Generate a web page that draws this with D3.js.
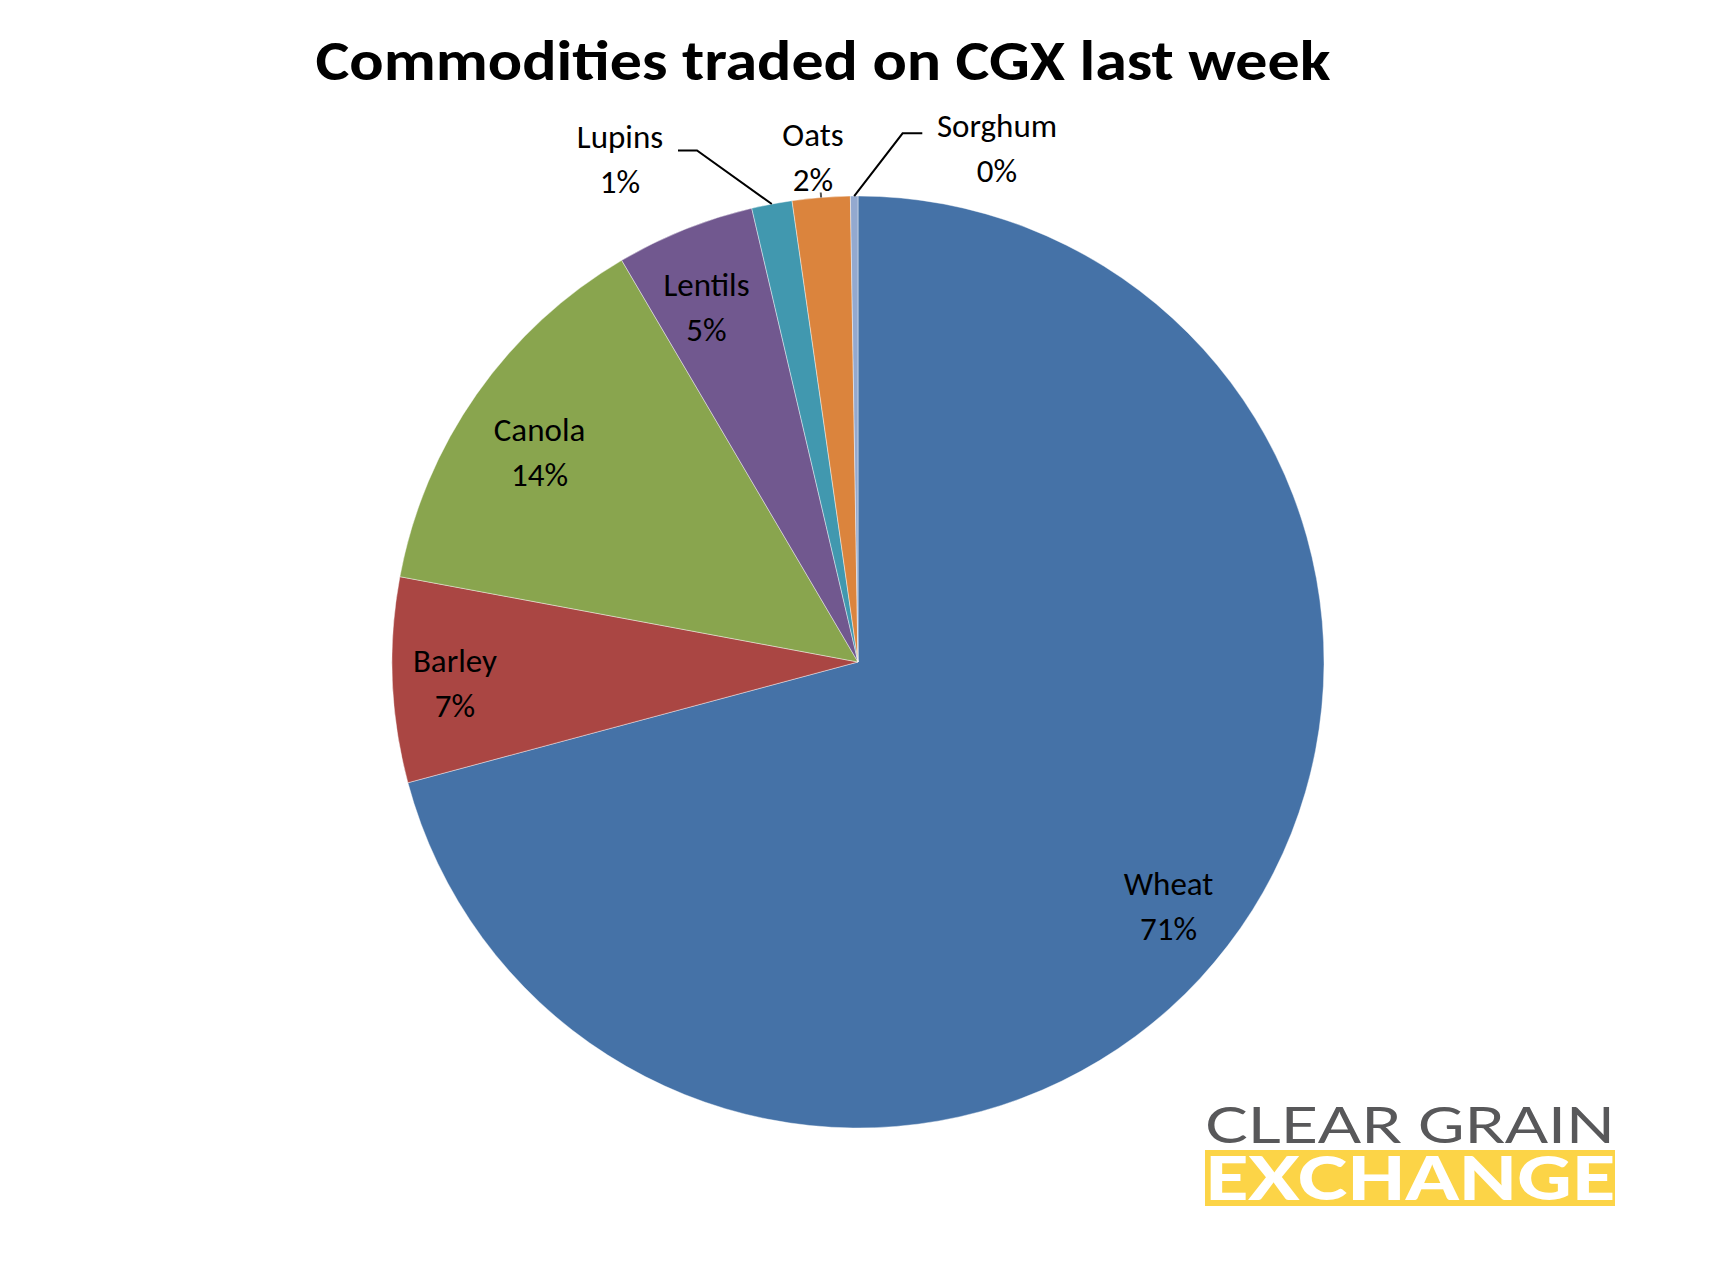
<!DOCTYPE html>
<html>
<head>
<meta charset="utf-8">
<script src="https://cdn.jsdelivr.net/npm/d3@7"></script>
<style>
  html, body { margin: 0; padding: 0; background: #ffffff; }
  svg { display: block; }
</style>
</head>
<body>
<svg id="chart" width="1716" height="1288"></svg>
<script>
// ---- data ----
const categories = ["Wheat", "Barley", "Canola", "Lentils", "Lupins", "Oats", "Sorghum"];
const values = [70.8, 7.1, 13.6, 4.8, 1.4, 2.0, 0.26];
const colors = ["#4572A7", "#AA4643", "#89A54E", "#71588F", "#4198AF", "#DB843D", "#93A9CF"];
const titleText = "Commodities traded on CGX last week";
const logoTop = "CLEAR GRAIN";
const logoBottom = "EXCHANGE";

// ---- layout ----
const W = 1716, H = 1288;
const cx = 858, cy = 662, R = 466;
const labelFont = "Carlito, Calibri, Lato, 'Open Sans', sans-serif";
const labelSize = 33, capRatio = 0.72, baselineGap = 45;
// inside labels: nudge from the slice centroid (at 0.84 R)
const insideNudge = {
  "Wheat":   [0, 5],
  "Barley":  [-12, 5],
  "Canola":  [2, 14],
  "Lentils": [-6, 8]
};
// outside labels: label block center relative to pie center, leader elbow/end
const outside = {
  "Lupins":  { lx: -238, ly: -503, elbow: [-161, -511.5], end: [-180, -511.5] },
  "Oats":    { lx: -45,  ly: -505, stub: 5 },
  "Sorghum": { lx: 139,  ly: -514, elbow: [44.6, -528.7], end: [64.3, -528.7] }
};

const svg = d3.select("#chart");
svg.append("rect").attr("width", W).attr("height", H).attr("fill", "#ffffff");

// title
svg.append("text")
  .attr("x", 823).attr("y", 80)
  .attr("text-anchor", "middle")
  .attr("font-family", labelFont)
  .attr("font-weight", 700)
  .attr("font-size", 56)
  .attr("fill", "#000")
  .attr("textLength", 1015).attr("lengthAdjust", "spacingAndGlyphs")
  .text(titleText);

// pie
const total = d3.sum(values);
const data = categories.map((c, i) => ({ name: c, value: values[i], color: colors[i] }));
const pie = d3.pie().sort(null).value(d => d.value).startAngle(0).endAngle(2 * Math.PI);
const arcs = pie(data);
const arc = d3.arc().innerRadius(0).outerRadius(R);
const labelArc = d3.arc().innerRadius(R * 0.84).outerRadius(R * 0.84);

const g = svg.append("g").attr("transform", `translate(${cx},${cy})`);
g.selectAll("path.slice").data(arcs).join("path")
  .attr("class", "slice")
  .attr("d", arc)
  .attr("fill", d => d.data.color)
  .attr("stroke", "#ffffff")
  .attr("stroke-width", 0.6)
  .attr("stroke-opacity", 0.7);

const pct = d => Math.round(d.data.value / total * 100) + "%";
const cap = labelSize * capRatio;

arcs.forEach(d => {
  const o = outside[d.data.name];
  let x, y;
  if (o) {
    x = o.lx; y = o.ly;
    const mid = (d.startAngle + d.endAngle) / 2;
    const p0 = [R * Math.sin(mid), -R * Math.cos(mid)];
    if (o.elbow) {
      g.append("polyline")
        .attr("points", [o.end, o.elbow, p0].map(p => p.join(",")).join(" "))
        .attr("fill", "none").attr("stroke", "#000").attr("stroke-width", 2);
    } else if (o.stub) {
      const p1 = [(R + o.stub) * Math.sin(mid), -(R + o.stub) * Math.cos(mid)];
      g.append("line")
        .attr("x1", p0[0]).attr("y1", p0[1]).attr("x2", p1[0]).attr("y2", p1[1])
        .attr("stroke", "#555").attr("stroke-width", 2);
    }
  } else {
    const c = labelArc.centroid(d);
    const n = insideNudge[d.data.name] || [0, 0];
    x = c[0] + n[0]; y = c[1] + n[1];
  }
  const b1 = y - (baselineGap + cap) / 2 + cap;
  const b2 = b1 + baselineGap;
  const t = g.append("text")
    .attr("text-anchor", "middle")
    .attr("font-family", labelFont)
    .attr("font-size", labelSize)
    .attr("fill", "#000");
  t.append("tspan").attr("x", x).attr("y", b1).text(d.data.name);
  t.append("tspan").attr("x", x).attr("y", b2).text(pct(d));
});

// logo
const logo = svg.append("g");
logo.append("text")
  .attr("x", 1205).attr("y", 1143)
  .attr("font-family", "Lato, 'Open Sans', sans-serif")
  .attr("font-weight", 400)
  .attr("font-size", 51)
  .attr("fill", "#58585A")
  .attr("textLength", 410).attr("lengthAdjust", "spacingAndGlyphs")
  .text(logoTop);
logo.append("rect")
  .attr("x", 1205).attr("y", 1150).attr("width", 410).attr("height", 56)
  .attr("fill", "#FCD447");
logo.append("text")
  .attr("x", 1205).attr("y", 1200)
  .attr("font-family", "Lato, 'Open Sans', sans-serif")
  .attr("font-weight", 900)
  .attr("font-size", 60)
  .attr("fill", "#ffffff")
  .attr("textLength", 410).attr("lengthAdjust", "spacingAndGlyphs")
  .text(logoBottom);
</script>
</body>
</html>
